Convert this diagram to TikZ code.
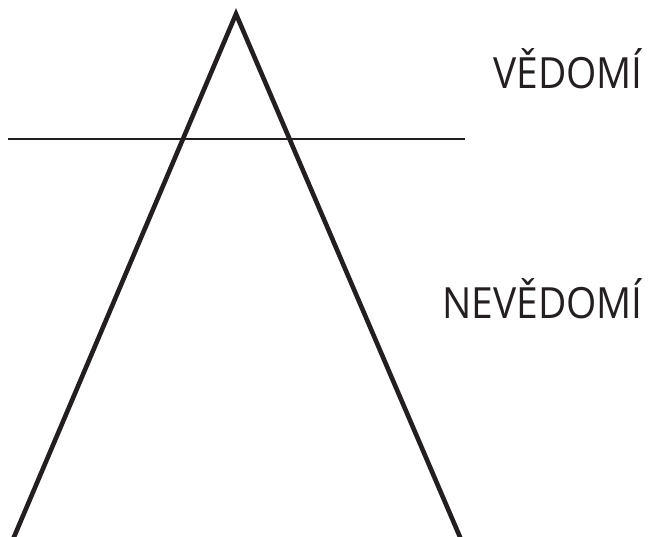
\documentclass[tikz,border=0pt]{standalone}
\usepackage{fontspec}
\setmainfont{Open Sans}
\definecolor{ink}{HTML}{231F20}
\tikzset{
  side/.style={draw=ink, line width=4.6pt, line join=miter},
  level/.style={draw=ink, line width=2pt},
  label/.style={text=ink, inner sep=0pt, anchor=base east, xscale=0.905, font=\fontsize{43}{50}\selectfont}
}
\begin{document}
\begin{tikzpicture}[x=1pt,y=-1pt]
\useasboundingbox (0,0) rectangle (651,537);
\clip (0,0) rectangle (651,537);
\coordinate (apex) at (236,14);
\coordinate (bl) at (10.6,545);
\coordinate (br) at (463.4,545);
\coordinate (hl) at (8,139);
\coordinate (hr) at (465,139);
\draw[side] (bl) -- (apex) -- (br);
\draw[level] (hl) -- (hr);
\node[label] (ved) at (643,89) {VĚDOMÍ};
\node[label] (nev) at (643,319) {NEVĚDOMÍ};
\end{tikzpicture}
\end{document}
